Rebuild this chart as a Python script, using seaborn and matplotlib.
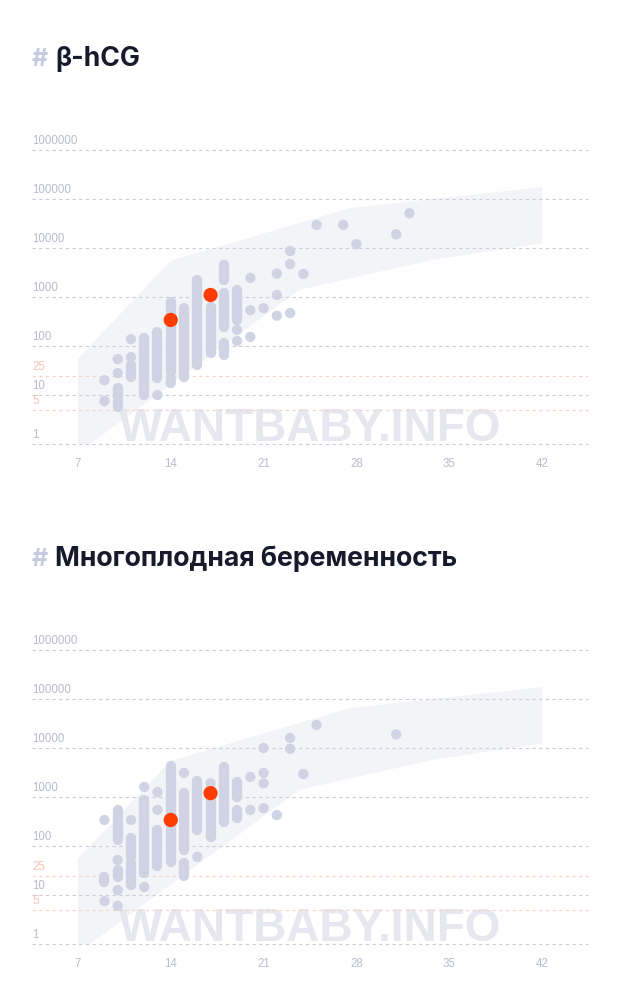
import matplotlib
matplotlib.use("Agg")
import matplotlib.pyplot as plt
import matplotlib.transforms as mtransforms
import seaborn as sns
import pandas as pd

sns.set_theme(style="white")
plt.rcParams["font.family"] = ["Liberation Sans", "DejaVu Sans"]

# ---------------- data ----------------
titles = ["β-hCG", "Многоплодная беременность"]
x_ticks = [7, 14, 21, 28, 35, 42]
y_grid = [1, 10, 100, 1000, 10000, 100000, 1000000]
y_grid_labels = ["1", "10", "100", "1000", "10000", "100000", "1000000"]
y_extra = [25, 5]
y_extra_labels = ["25", "5"]

# reference band (polygon: upper edge left->right, lower edge right->left)
band_upper_weeks = [7, 14, 27.5, 42]
band_upper_vals = [55, 5500, 65000, 175000]
band_lower_weeks = [42, 33.7, 23.7, 7.9, 7]
band_lower_vals = [12500, 5700, 1400, 1, 1]

# chart 1: β-hCG
c1_dot_weeks = [9, 9, 10, 10, 11, 11, 13, 14, 14, 19, 19, 20, 20, 20, 21, 22, 22, 22,
                23, 23, 23, 24, 25, 27, 28, 31, 32]
c1_dot_vals = [20, 7.5, 54, 28, 138, 59, 10, 22, 17.6, 213, 126, 2450, 540, 153, 590,
               3000, 1100, 415, 8700, 4700, 470, 2950, 29500, 29500, 12000, 19000, 51000]
c1_seg_weeks = [10, 10, 11, 12, 13, 14, 15, 16, 17, 18, 18, 18, 19]
c1_seg_lo = [9.1, 5.7, 23.5, 10, 22, 29, 23, 41, 72, 2200, 245, 66, 340]
c1_seg_hi = [14, 7.2, 41, 144, 195, 800, 600, 2200, 630, 4500, 1200, 115, 1380]
c1_red_weeks = [14, 17]
c1_red_vals = [340, 1100]

# chart 2: multiple pregnancy
c2_dot_weeks = [9, 9, 10, 10, 10, 11, 12, 12, 13, 13, 15, 16, 17, 20, 20,
                21, 21, 21, 21, 22, 23, 23, 24, 25, 31]
c2_dot_vals = [340, 7.5, 52, 12.6, 6, 340, 1600, 14.6, 1260, 543, 3100, 60, 1900, 2570, 543,
               10000, 3100, 1900, 590, 430, 16000, 9600, 2950, 29500, 19000]
c2_seg_weeks = [9, 10, 10, 11, 11, 12, 13, 14, 15, 15, 16, 17, 18, 19, 19]
c2_seg_lo = [18.4, 133, 23, 60, 16, 28, 39, 47, 83, 25, 213, 155, 310, 1000, 370]
c2_seg_hi = [23, 543, 32, 146, 45, 870, 213, 4300, 1200, 45, 2100, 870, 4100, 2050, 543]
c2_red_weeks = [14, 17]
c2_red_vals = [340, 1200]

charts = [
    (c1_dot_weeks, c1_dot_vals, c1_seg_weeks, c1_seg_lo, c1_seg_hi, c1_red_weeks, c1_red_vals),
    (c2_dot_weeks, c2_dot_vals, c2_seg_weeks, c2_seg_lo, c2_seg_hi, c2_red_weeks, c2_red_vals),
]

# ---------------- style ----------------
W, H = 619, 1000
GRAY_DOT = "#cfd3e3"
RED = "#ff3d00"
BAND = "#f3f4f8"
GRID = "#c9ccd9"
PINK = "#f7d2c6"
LABEL = "#b9bccd"
PINK_LABEL = "#f6c3b3"
TITLE = "#171a2b"
HASH = "#c5cbe0"
WATER = "#e6e7ef"

fig = plt.figure(figsize=(W / 100, H / 100), dpi=100)

px_per_dec = 49.0
for i, (dw, dv, sw, slo, shi, rw, rv) in enumerate(charts):
    off = 500 * i
    y1_px = 444 + off          # pixel of value 1
    top_px, bot_px = 130 + off, 455 + off
    left_px, right_px = 32, 588
    ax = fig.add_axes([left_px / W, 1 - bot_px / H, (right_px - left_px) / W, (bot_px - top_px) / H])
    ax.set_yscale("log")
    ax.set_ylim(10 ** (-(bot_px - y1_px) / px_per_dec), 10 ** ((y1_px - top_px) / px_per_dec))
    wk_px = 93.0 / 7.0
    ax.set_xlim(7 - (78 - left_px) / wk_px, 42 + (right_px - 542) / wk_px)
    for s in ax.spines.values():
        s.set_visible(False)
    ax.set_facecolor("none")

    # band
    bx = band_upper_weeks + band_lower_weeks
    by = band_upper_vals + band_lower_vals
    ax.fill(bx, by, color=BAND, zorder=1, lw=0)

    # watermark
    ax.text(0.5, (bot_px - (429 + off)) / (bot_px - top_px), "WANTBABY.INFO",
            transform=ax.transAxes, ha="center", va="center", fontsize=33,
            fontweight="bold", color=WATER, zorder=1.5)

    # grid lines
    for v in y_grid:
        ax.axhline(v, color=GRID, lw=0.8, ls=(0, (3, 3)), zorder=2, clip_on=False)
    for v in y_extra:
        ax.axhline(v, color=PINK, lw=0.8, ls=(0, (3, 3)), zorder=2, clip_on=False)

    # y labels above lines
    trans = mtransforms.blended_transform_factory(ax.transAxes, ax.transData)
    lab_off = mtransforms.offset_copy(trans, fig=fig, x=0, y=3, units="dots")
    for v, t in zip(y_grid, y_grid_labels):
        ax.text(0, v, t, transform=lab_off, ha="left", va="bottom", fontsize=8.3, color=LABEL)
    for v, t in zip(y_extra, y_extra_labels):
        ax.text(0, v, t, transform=lab_off, ha="left", va="bottom", fontsize=8.3, color=PINK_LABEL)

    # segments (stacked observations)
    ax.vlines(sw, slo, shi, colors=GRAY_DOT, linewidth=7.4, capstyle="round", zorder=3)
    # single dots
    df = pd.DataFrame({"week": dw, "value": dv})
    sns.scatterplot(data=df, x="week", y="value", ax=ax, s=55, color=GRAY_DOT,
                    edgecolor="none", linewidth=0, zorder=4, legend=False)
    dfr = pd.DataFrame({"week": rw, "value": rv})
    sns.scatterplot(data=dfr, x="week", y="value", ax=ax, s=105, color=RED,
                    edgecolor="none", linewidth=0, zorder=5, legend=False)

    ax.set_xticks(x_ticks)
    ax.set_xticklabels([str(t) for t in x_ticks])
    ax.set_yticks([])
    ax.minorticks_off()
    ax.yaxis.set_minor_locator(matplotlib.ticker.NullLocator())
    ax.tick_params(axis="x", length=0, pad=2.5, labelsize=8.3, labelcolor=LABEL)
    ax.set_xlabel("")
    ax.set_ylabel("")

    # title
    fig.text(32 / W, 1 - (66 + off) / H, "#", ha="left", va="baseline",
             fontsize=18, fontweight="bold", color=HASH, family=["Inter", "DejaVu Sans"])
    fig.text(55 / W, 1 - (66 + off) / H, titles[i], ha="left", va="baseline",
             fontsize=19.2, fontweight="bold", color=TITLE, family=["Inter", "DejaVu Sans"])

fig.savefig("out.png", dpi=100, facecolor="white")
